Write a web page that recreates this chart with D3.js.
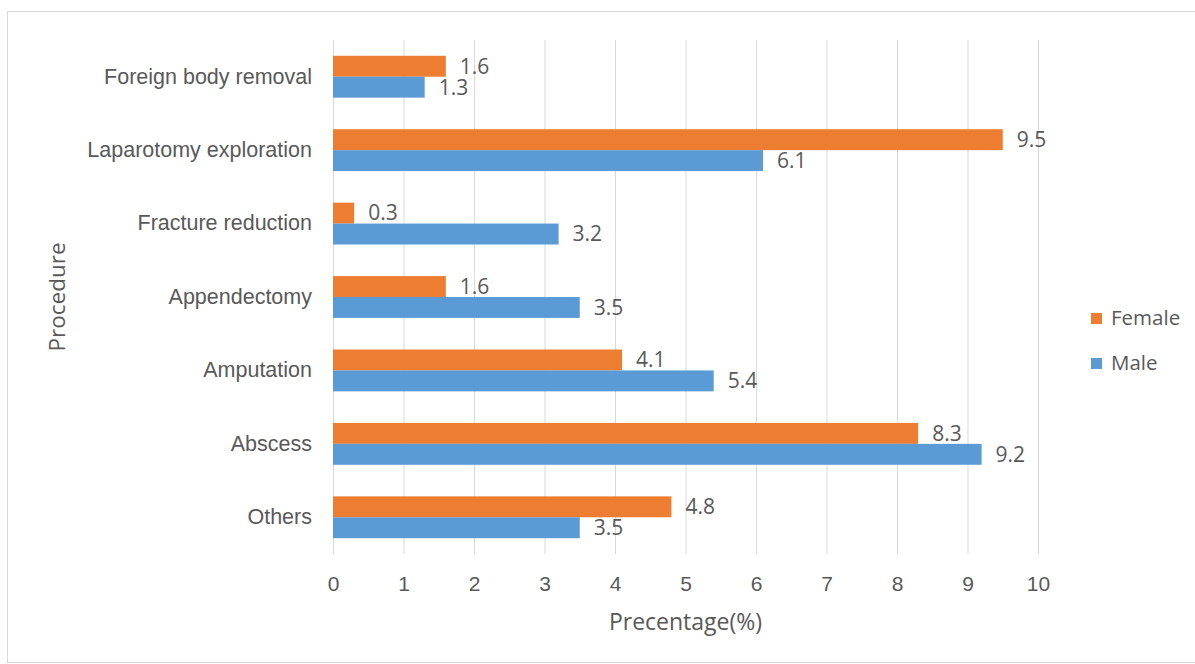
<!DOCTYPE html>
<html>
<head>
<meta charset="utf-8">
<script src="https://cdn.jsdelivr.net/npm/d3@7"></script>
<style>
  html, body { margin: 0; padding: 0; background: #fff; }
  svg { display: block; font-family: "Open Sans", "Noto Sans", sans-serif; }
</style>
</head>
<body>
<svg id="chart" width="1195" height="664"></svg>
<script>
// Procedures, listed top to bottom
const procedures = ["Foreign body removal", "Laparotomy exploration", "Fracture reduction",
                    "Appendectomy", "Amputation", "Abscess", "Others"];
const femaleValues = [1.6, 9.5, 0.3, 1.6, 4.1, 8.3, 4.8];
const maleValues   = [1.3, 6.1, 3.2, 3.5, 5.4, 9.2, 3.5];
const seriesNames  = ["Female", "Male"];
const xTicks = [0, 1, 2, 3, 4, 5, 6, 7, 8, 9, 10];

const colors = { Female: "#ED7D31", Male: "#5B9BD5" };
const textColor = "#595959";

const svg = d3.select("#chart");

// outer frame
svg.append("rect")
  .attr("x", 7.5).attr("y", 11.5)
  .attr("width", 1195).attr("height", 651)
  .attr("fill", "none").attr("stroke", "#d9d9d9");

const plot = { left: 333, right: 1038, top: 40, bottom: 554 };

const x = d3.scaleLinear().domain([0, 10]).range([plot.left, plot.right]);
const y = d3.scaleBand().domain(procedures).range([plot.top, plot.bottom]).paddingInner(0.43).paddingOuter(0.215);
const sub = d3.scaleBand().domain(seriesNames).range([0, y.bandwidth()]);

// vertical gridlines
svg.append("g")
  .selectAll("line")
  .data(xTicks)
  .join("line")
  .attr("x1", d => x(d) + 0.5).attr("x2", d => x(d) + 0.5)
  .attr("y1", plot.top).attr("y2", plot.bottom)
  .attr("stroke", "#d9d9d9").attr("stroke-width", 1);

// x axis tick labels
const xAxis = d3.axisBottom(x).tickValues(xTicks).tickSize(0).tickPadding(0).tickFormat(d3.format("d"));
const gx = svg.append("g").attr("transform", `translate(0, ${plot.bottom + 22})`).call(xAxis);
gx.select(".domain").remove();
gx.selectAll("text").attr("fill", textColor).style("font-size", "21px")
  .attr("dy", "0.71em").attr("y", 0);

// category labels
const yAxis = d3.axisLeft(y).tickSize(0).tickPadding(21);
const gy = svg.append("g").attr("transform", `translate(${plot.left}, 0)`).call(yAxis);
gy.select(".domain").remove();
gy.selectAll("text").attr("fill", textColor).style("font-size", "21.5px");

// bars
const rows = procedures.map((p, i) => ({ p, Female: femaleValues[i], Male: maleValues[i] }));
const groups = svg.append("g").selectAll("g")
  .data(rows)
  .join("g")
  .attr("transform", d => `translate(0, ${y(d.p)})`);

groups.selectAll("rect")
  .data(d => seriesNames.map(s => ({ s, v: d[s] })))
  .join("rect")
  .attr("x", x(0))
  .attr("y", d => sub(d.s))
  .attr("width", d => x(d.v) - x(0))
  .attr("height", sub.bandwidth())
  .attr("fill", d => colors[d.s]);

groups.selectAll("text")
  .data(d => seriesNames.map(s => ({ s, v: d[s] })))
  .join("text")
  .attr("x", d => x(d.v) + 14)
  .attr("y", d => sub(d.s) + sub.bandwidth() / 2)
  .attr("dy", "0.35em")
  .attr("fill", textColor)
  .style("font-size", "21px")
  .text(d => d3.format(".1f")(d.v));

// axis titles
svg.append("text")
  .attr("x", (plot.left + plot.right) / 2).attr("y", 622)
  .attr("dy", "0.35em").attr("text-anchor", "middle")
  .attr("fill", textColor).style("font-size", "23px")
  .text("Precentage(%)");

svg.append("text")
  .attr("transform", `translate(57, ${(plot.top + plot.bottom) / 2}) rotate(-90)`)
  .attr("dy", "0.35em").attr("text-anchor", "middle")
  .attr("fill", textColor).style("font-size", "22.5px")
  .text("Procedure");

// legend
const legend = svg.append("g").attr("transform", "translate(1091, 318)");
const items = legend.selectAll("g").data(seriesNames).join("g")
  .attr("transform", (d, i) => `translate(0, ${i * 45})`);
items.append("rect").attr("x", 0).attr("y", -5).attr("width", 11).attr("height", 11)
  .attr("fill", d => colors[d]);
items.append("text").attr("x", 20).attr("y", 0).attr("dy", "0.35em")
  .attr("fill", textColor).style("font-size", "20.5px").text(d => d);
</script>
</body>
</html>
